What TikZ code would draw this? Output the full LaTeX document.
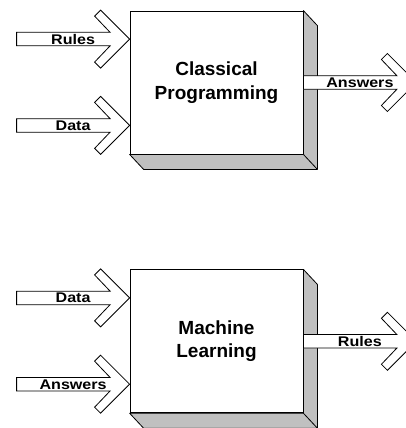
\documentclass[tikz,border=0pt]{standalone}
\usepackage{fontspec}
\setmainfont{Liberation Sans}
\newfontfamily\lblfont[FakeStretch=1.15]{Liberation Sans}
\usetikzlibrary{positioning,calc}

\definecolor{sidegray}{RGB}{192,192,192}

\tikzset{
  block/.style={rectangle, draw, fill=white, minimum width=173pt, minimum height=143pt,
    inner sep=0pt, align=center, font=\fontsize{19}{23.4}\selectfont\bfseries},
  sideface/.style={draw, fill=sidegray, line join=round},
  arrowbody/.style={draw, fill=white},
  arrowlabel/.style={anchor=base, inner sep=0pt, font=\lblfont\fontsize{14}{16}\selectfont\bfseries},
}

% fat chevron arrow: #1 tip, #2 label name, #3 label text
\newcommand{\chevarrow}[3]{%
  \begin{scope}[shift={(#1)}]
    \draw[arrowbody] (-113,-6.75) -- (-19.5,-6.75) -- (-35,-23) -- (-29,-29)
      -- (0,0) -- (-29,29) -- (-35,23) -- (-19.5,6.75) -- (-113,6.75) -- cycle;
    \node[arrowlabel] (#2) at (-56.5,5) {#3};
  \end{scope}}

\begin{document}
\begin{tikzpicture}[x=1pt, y=-1pt, line width=0.8pt]
  \useasboundingbox (0,0) rectangle (406,428);
  \clip (0,0) rectangle (406,428);

  % classical programming
  \node[block] (cp) at (216.5,82.5) {Classical\\Programming};
  \draw[sideface] (cp.north east) -- ++(14,15) |- ($(cp.south west)+(14,15)$)
    -- (cp.south west) -- (cp.south east) -- cycle;
  \draw (cp.south east) -- ++(14,15);
  \coordinate (cprulestip) at ($(cp.north west)+(0,28.5)$);
  \coordinate (cpdatatip) at ($(cp.south west)+(0,-29)$);
  \coordinate (cpanswerstip) at ($(cp.east)+(113,0)$);
  \chevarrow{cprulestip}{cprules}{Rules}
  \chevarrow{cpdatatip}{cpdata}{Data}
  \chevarrow{cpanswerstip}{cpanswers}{Answers}

  % machine learning
  \node[block, below=115pt of cp] (ml) {Machine\\Learning};
  \draw[sideface] (ml.north east) -- ++(14,15) |- ($(ml.south west)+(14,15)$)
    -- (ml.south west) -- (ml.south east) -- cycle;
  \draw (ml.south east) -- ++(14,15);
  \coordinate (mldatatip) at ($(ml.north west)+(0,28.5)$);
  \coordinate (mlanswerstip) at ($(ml.south west)+(0,-29)$);
  \coordinate (mlrulestip) at ($(ml.east)+(113,0)$);
  \chevarrow{mldatatip}{mldata}{Data}
  \chevarrow{mlanswerstip}{mlanswers}{Answers}
  \chevarrow{mlrulestip}{mlrules}{Rules}
\end{tikzpicture}
\end{document}
